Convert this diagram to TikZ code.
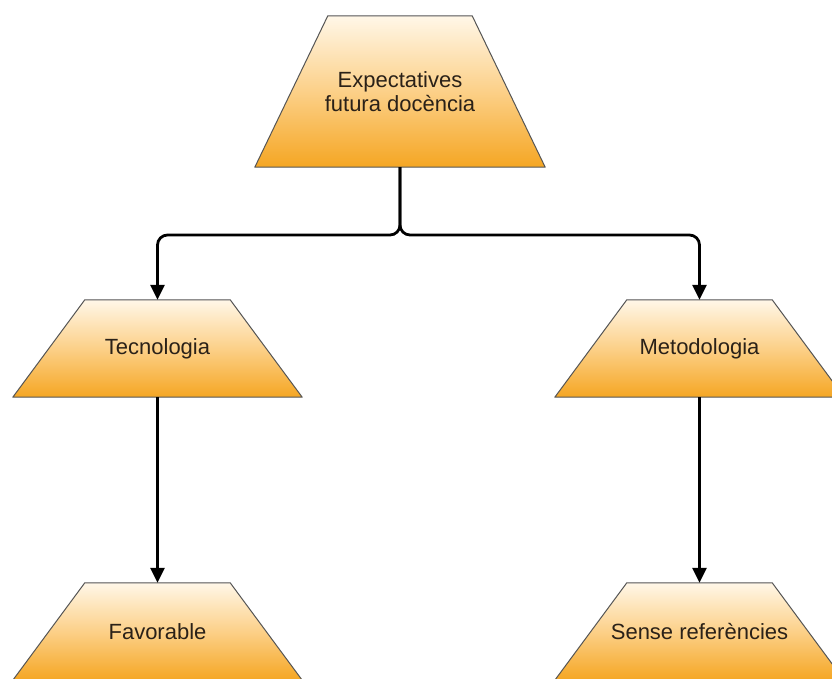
\documentclass[tikz,border=0pt]{standalone}
\usepackage{fontspec}
\setmainfont{Liberation Sans}
\usetikzlibrary{arrows.meta,backgrounds}
\definecolor{boxtop}{HTML}{FFF7E8}
\definecolor{boxmid}{HTML}{FCD088}
\definecolor{boxbot}{HTML}{F5A623}
\definecolor{boxline}{HTML}{555555}
\definecolor{boxtext}{HTML}{2A2118}
\tikzset{
  trap/.style={rectangle, draw=none, text=boxtext,
    font=\fontsize{22}{24}\selectfont, align=center, inner sep=0pt},
  toptrap/.style={trap, minimum width=290pt, minimum height=151pt},
  midtrap/.style={trap, minimum width=289pt, minimum height=97pt},
  trapfill/.style={draw=boxline, line width=1pt, line join=round,
    top color=boxtop, bottom color=boxbot, middle color=boxmid},
  conn/.style={line width=2.8pt, black, rounded corners=10pt,
    -{Triangle[length=15pt,width=14pt]}}
}
\newcommand{\shadetrap}[2]{%
  \draw[trapfill] (#1.south west) -- ([xshift=#2]#1.north west)
    -- ([xshift=-#2]#1.north east) -- (#1.south east) -- cycle;}
\begin{document}
\begin{tikzpicture}[x=1pt,y=-1pt]
\useasboundingbox (0,0) rectangle (832,678);
\clip (0,0) rectangle (832,678);
\node[toptrap] (exp) at (400,91.5) {Expectatives\\futura docència};
\node[midtrap] (tec) at (157.5,348.5) {Tecnologia};
\node[midtrap] (met) at (699.5,348.5) {Metodologia};
\node[midtrap] (fav) at (157.5,631.5) {Favorable};
\node[midtrap] (sen) at (699.5,631.5) {Sense referències};
\begin{scope}[on background layer]
\fill[white] (0,0) rectangle (832,678);
\shadetrap{exp}{73pt}
\shadetrap{tec}{72pt}
\shadetrap{met}{72pt}
\shadetrap{fav}{72pt}
\shadetrap{sen}{72pt}
\end{scope}
\draw[conn] (exp.south) -- (400,235) -| (tec.north);
\draw[conn] (exp.south) -- (400,235) -| (met.north);
\draw[conn] (tec.south) -- (fav.north);
\draw[conn] (met.south) -- (sen.north);
\end{tikzpicture}
\end{document}
